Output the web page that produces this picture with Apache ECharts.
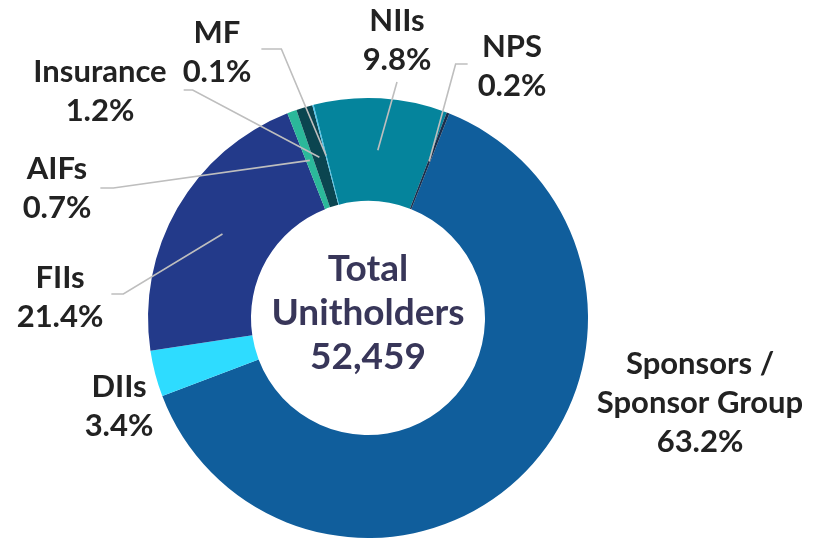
<!DOCTYPE html>
<html>
<head>
<meta charset="utf-8">
<script src="https://cdn.jsdelivr.net/npm/echarts@6/dist/echarts.min.js"></script>
<style>
  html, body { margin: 0; background: #fff; }
  #main { width: 820px; height: 539px; }
</style>
</head>
<body>
<div id="main"></div>
<script>
// data (share of unitholders, %)
const categories = ['Sponsors /\nSponsor Group', 'DIIs', 'FIIs', 'AIFs', 'Insurance', 'MF', 'NIIs', 'NPS'];
const shares = [63.2, 3.4, 21.4, 0.7, 1.2, 0.1, 9.8, 0.2];
const centerLines = ['Total', 'Unitholders', '52,459'];

const sliceColors = ['#105E9C', '#2EDCFF', '#233A8A', '#2BB89A', '#0B4550', '#4FC8F0', '#05849C', '#1B2E4B'];

// where each label sits (centre) and how its leader line meets it
// side: which edge of the label the line comes into, gap: space to text, len2: short flat segment
const labelSpots = [
  { x: 700, y: 403, side: null },
  { x: 119, y: 406, side: null },
  { x: 60, y: 297, side: 'right', gap: 8, len2: 12, dy: -3 },
  { x: 57, y: 188, side: 'right', gap: 9, len2: 13, dy: 0 },
  { x: 100, y: 91, side: 'right', gap: 17, len2: 9, dy: -1 },
  { x: 217, y: 52, side: 'right', gap: 10, len2: 20, dy: -3 },
  { x: 397, y: 40, side: 'bottom', gap: 10, len2: 0, dy: 0 },
  { x: 512, y: 66, side: 'left', gap: 10, len2: 12, dy: -2 }
];

const CX = 368, CY = 318;
const FONT = 'Lato, "Noto Sans", sans-serif';

const chart = echarts.init(document.getElementById('main'));

const ringData = categories.map((name, i) => ({
  name: name,
  value: shares[i],
  itemStyle: { color: sliceColors[i] }
}));

// invisible copy that ends at the middle of the ring, so leader lines start there
const anchorData = categories.map((name, i) => ({
  name: name,
  value: shares[i],
  labelLine: { show: labelSpots[i].side !== null }
}));

chart.setOption({
  animation: false,
  graphic: [{
    type: 'text',
    x: CX,
    y: 313,
    style: {
      text: centerLines.join('\n'),
      align: 'center',
      verticalAlign: 'middle',
      font: 'bold 37px ' + FONT,
      lineHeight: 44,
      fill: '#383659'
    },
    z: 10
  }],
  series: [
    {
      type: 'pie',
      z: 2,
      center: [CX, CY],
      radius: [117, 220],
      startAngle: 68.3,
      clockwise: true,
      silent: true,
      label: { show: false },
      labelLine: { show: false },
      data: ringData
    },
    {
      type: 'pie',
      z: 6,
      center: [CX, CY],
      radius: [0, 168],
      startAngle: 68.3,
      clockwise: true,
      silent: true,
      avoidLabelOverlap: false,
      itemStyle: { color: 'rgba(0,0,0,0)' },
      label: {
        show: true,
        position: 'outside',
        color: '#222222',
        fontFamily: FONT,
        fontWeight: 'bold',
        fontSize: 31,
        lineHeight: 39,
        align: 'center',
        formatter: p => p.name + '\n' + p.value.toFixed(1) + '%'
      },
      labelLine: {
        show: true,
        length: 10,
        length2: 10,
        lineStyle: { color: '#BEBEBE', width: 1.6 }
      },
      labelLayout: function (params) {
        const spot = labelSpots[params.dataIndex];
        const out = { x: spot.x, y: spot.y, align: 'center', verticalAlign: 'middle', hideOverlap: false, moveOverlap: null };
        if (spot.side && params.labelLinePoints) {
          const start = params.labelLinePoints[0];
          const w = params.labelRect.width;
          let end, kink;
          if (spot.side === 'right') {
            end = [spot.x + w / 2 + spot.gap, spot.y + spot.dy];
            kink = [end[0] + spot.len2, end[1]];
          } else if (spot.side === 'left') {
            end = [spot.x - w / 2 - spot.gap, spot.y + spot.dy];
            kink = [end[0] - spot.len2, end[1]];
          } else {
            end = [spot.x, spot.y + 32 + spot.gap];
            kink = end;
          }
          out.labelLinePoints = [start, kink, end];
        }
        return out;
      },
      data: anchorData
    }
  ]
});
</script>
</body>
</html>
